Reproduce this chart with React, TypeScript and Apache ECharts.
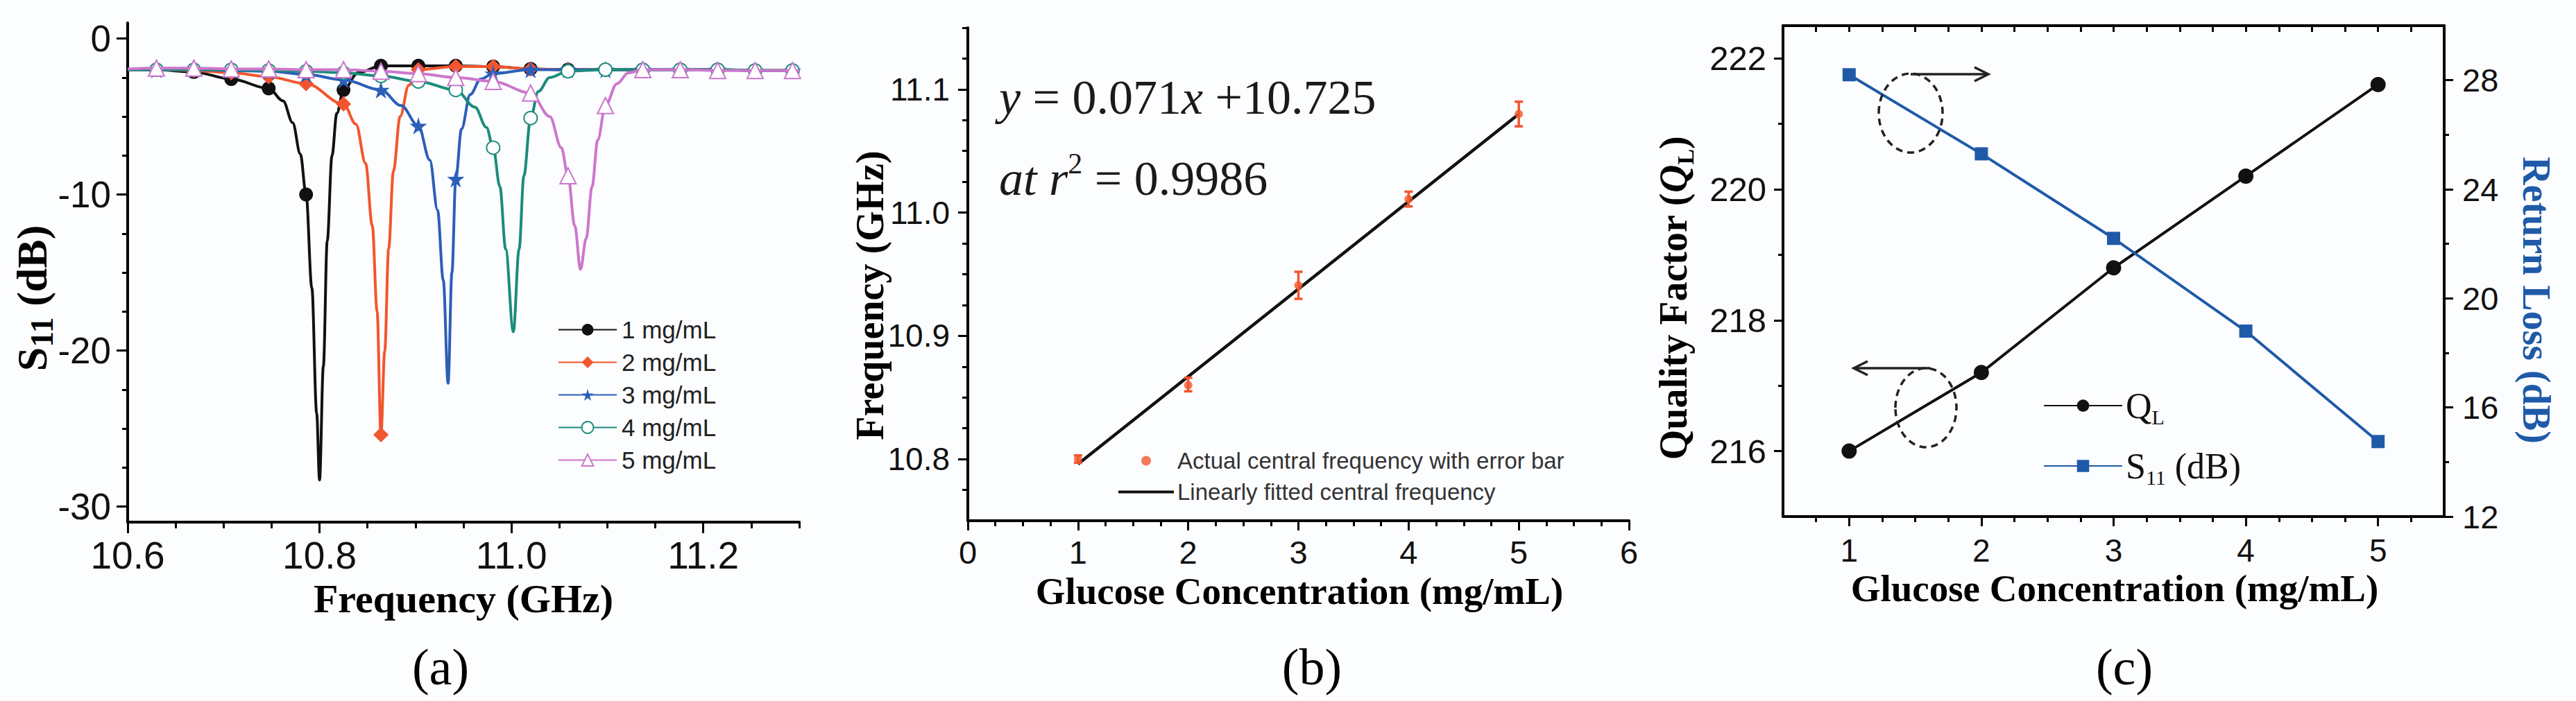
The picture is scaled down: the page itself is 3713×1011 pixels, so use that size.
import React, { useEffect, useRef } from 'react';
import * as echarts from 'echarts';

const W = 3713;
const H = 1011;
const SANS = '"Liberation Sans", Arial, sans-serif';
const SERIF = '"Liberation Serif", "Times New Roman", serif';

// ---------------- Panel (a): S11 vs frequency ----------------
const FREQ_LABELS = [10.6, 10.8, 11.0, 11.2];
const FREQ_MINOR = [10.65, 10.7, 10.75, 10.85, 10.9, 10.95, 11.05, 11.1, 11.15, 11.25, 11.3];
const S11_LABELS = [0, -10, -20, -30];
const S11_MINOR = [-27.5, -25, -22.5, -17.5, -15, -12.5, -7.5, -5, -2.5];
const MARKER_FREQS = [10.63, 10.669, 10.708, 10.747, 10.786, 10.825, 10.864, 10.903, 10.942, 10.981, 11.02, 11.059, 11.098, 11.137, 11.176, 11.215, 11.254, 11.293];
const CONC_NAMES = ['1 mg/mL', '2 mg/mL', '3 mg/mL', '4 mg/mL', '5 mg/mL'];

const S11_C1: [number, number][] = [
  [10.6, -2.0], [10.63, -2.0], [10.669, -2.15], [10.708, -2.6], [10.747, -3.2], [10.762, -4.0], [10.772, -5.4],
  [10.78, -7.4], [10.786, -10.0], [10.792, -16.0], [10.797, -24.0], [10.8, -28.3], [10.804, -21.0], [10.808, -13.0],
  [10.813, -7.5], [10.818, -4.8], [10.825, -3.3], [10.84, -2.2], [10.864, -1.75], [10.903, -1.75], [10.942, -1.75],
  [10.981, -1.8], [11.02, -1.95], [11.059, -2.0], [11.098, -2.0], [11.137, -2.0], [11.176, -2.0], [11.215, -2.0],
  [11.254, -2.05], [11.293, -2.05], [11.3, -2.05],
];
const S11_C2: [number, number][] = [
  [10.6, -2.0], [10.63, -2.0], [10.669, -2.05], [10.708, -2.2], [10.747, -2.45], [10.786, -2.9], [10.825, -4.2],
  [10.838, -5.5], [10.848, -8.0], [10.855, -12.0], [10.86, -17.5], [10.864, -25.4], [10.868, -20.0], [10.872, -13.5],
  [10.877, -8.5], [10.884, -5.0], [10.893, -3.0], [10.903, -2.0], [10.942, -1.8], [10.981, -1.8], [11.02, -1.95],
  [11.059, -2.0], [11.098, -2.0], [11.137, -2.0], [11.176, -2.0], [11.215, -2.0], [11.254, -2.05], [11.293, -2.05],
  [11.3, -2.05],
];
const S11_C3: [number, number][] = [
  [10.6, -2.0], [10.63, -2.0], [10.669, -2.0], [10.708, -2.05], [10.747, -2.1], [10.786, -2.3], [10.825, -2.65],
  [10.864, -3.3], [10.885, -4.3], [10.903, -5.6], [10.915, -7.8], [10.923, -11.0], [10.929, -15.5], [10.934, -22.1],
  [10.938, -15.0], [10.942, -9.0], [10.948, -5.8], [10.957, -3.6], [10.968, -2.6], [10.981, -2.25], [11.02, -2.0],
  [11.059, -2.0], [11.098, -2.0], [11.137, -2.0], [11.176, -2.0], [11.215, -2.0], [11.254, -2.05], [11.293, -2.05],
  [11.3, -2.05],
];
const S11_C4: [number, number][] = [
  [10.6, -2.0], [10.63, -2.0], [10.669, -2.0], [10.708, -2.0], [10.747, -2.05], [10.786, -2.1], [10.825, -2.2],
  [10.864, -2.4], [10.903, -2.75], [10.942, -3.3], [10.962, -4.4], [10.974, -5.7], [10.981, -7.0], [10.988, -9.5],
  [10.994, -13.5], [11.002, -18.8], [11.008, -13.5], [11.013, -8.8], [11.02, -5.1], [11.028, -3.4], [11.04, -2.5],
  [11.059, -2.1], [11.098, -2.0], [11.137, -2.0], [11.176, -2.0], [11.215, -2.0], [11.254, -2.05], [11.293, -2.05],
  [11.3, -2.05],
];
const S11_C5: [number, number][] = [
  [10.6, -1.95], [10.63, -1.9], [10.669, -1.9], [10.708, -1.95], [10.747, -1.95], [10.786, -2.0], [10.825, -2.0],
  [10.864, -2.1], [10.903, -2.25], [10.942, -2.5], [10.981, -2.75], [11.02, -3.5], [11.04, -5.0], [11.052, -7.0],
  [11.059, -8.8], [11.066, -12.0], [11.072, -14.8], [11.078, -12.8], [11.084, -9.5], [11.09, -6.5], [11.098, -4.3],
  [11.11, -2.9], [11.122, -2.2], [11.137, -2.0], [11.176, -2.0], [11.215, -2.05], [11.254, -2.05], [11.293, -2.05],
  [11.3, -2.05],
];

// ---------------- Panel (b): central frequency vs concentration ----------------
const CONC_B_LABELS = [0, 1, 2, 3, 4, 5, 6];
const CONC_B_MINOR = [0.25, 0.5, 0.75, 1.25, 1.5, 1.75, 2.25, 2.5, 2.75, 3.25, 3.5, 3.75, 4.25, 4.5, 4.75, 5.25, 5.5, 5.75];
const FB_LABELS = [10.8, 10.9, 11.0, 11.1];
const FB_MINOR = [10.775, 10.825, 10.85, 10.875, 10.925, 10.95, 10.975, 11.025, 11.05, 11.075, 11.125, 11.15];
const CONC = [1, 2, 3, 4, 5];
const CENTER_FREQ = [10.8, 10.86, 10.941, 11.011, 11.08];
const FREQ_LOW = [10.797, 10.855, 10.93, 11.005, 11.07];
const FREQ_HIGH = [10.803, 10.866, 10.952, 11.017, 11.09];
const FIT_X = [1, 5];
const FIT_Y = [10.796, 11.08];

// ---------------- Panel (c): quality factor and return loss ----------------
const CONC_C_LABELS = [1, 2, 3, 4, 5];
const CONC_C_MINOR = [0.75, 1.25, 1.5, 1.75, 2.25, 2.5, 2.75, 3.25, 3.5, 3.75, 4.25, 4.5, 4.75, 5.25];
const CONC_C_TOP = [0.75, 1, 1.25, 1.5, 1.75, 2, 2.25, 2.5, 2.75, 3, 3.25, 3.5, 3.75, 4, 4.25, 4.5, 4.75, 5, 5.25];
const Q_LABELS = [216, 218, 220, 222];
const Q_MINOR = [217, 219, 221];
const RL_LABELS = [12, 16, 20, 24, 28];
const RL_MINOR = [14, 18, 22, 26];
const Q_FACTOR = [216.0, 217.2, 218.8, 220.2, 221.6];
const RETURN_LOSS = [28.2, 25.3, 22.2, 18.8, 14.75];

const C_BLACK = '#111111';
const C_RED = '#f2562e';
const C_BLUE = '#2b5fb8';
const C_TEAL = '#1b8c7c';
const C_PINK = '#cc77cc';
const C_BLUE_C = '#1f5aa8';
const STAR = 'path://M50,0 L61,35 L98,35 L68,57 L79,91 L50,70 L21,91 L32,57 L2,35 L39,35 Z';
const LINE_ICON = 'path://M0,0 L100,0 L100,5 L0,5 Z';

function withMarkers(pts: [number, number][]) {
  return pts.map(([x, y]) =>
    MARKER_FREQS.some((m) => Math.abs(m - x) < 1e-9) ? [x, y] : { value: [x, y], symbol: 'none' }
  );
}

function mainAxis(o: any) {
  return {
    type: 'value',
    gridIndex: o.grid,
    position: o.pos,
    min: o.min,
    max: o.max,
    axisLine: { show: true, onZero: false, lineStyle: { color: '#000', width: 4 } },
    axisTick: { show: true, customValues: o.ticks, length: o.tickLen ?? 15, inside: !!o.inside, lineStyle: { color: '#000', width: 3 } },
    axisLabel: o.labels
      ? { show: true, customValues: o.labels, formatter: o.fmt, fontSize: o.fs, fontFamily: SANS, color: '#111', margin: o.margin }
      : { show: false },
    splitLine: { show: false },
    minorTick: { show: false },
    z: 5,
  };
}
function minorAxis(o: any) {
  return {
    type: 'value',
    gridIndex: o.grid,
    position: o.pos,
    min: o.min,
    max: o.max,
    axisLine: { show: false, onZero: false },
    axisTick: { show: true, customValues: o.ticks, length: o.len ?? 8, inside: !!o.inside, lineStyle: { color: '#000', width: 3 } },
    axisLabel: { show: false },
    splitLine: { show: false },
    z: 5,
  };
}

function buildOption(): any {
  const lineA = (name: string, data: [number, number][], color: string, symbol: string, size: number, z: number) => ({
    name,
    type: 'line',
    xAxisIndex: 0,
    yAxisIndex: 0,
    data: withMarkers(data),
    smooth: 0.35,
    smoothMonotone: 'x',
    symbol,
    symbolSize: size,
    showSymbol: true,
    showAllSymbol: true,
    color,
    lineStyle: { color, width: 4 },
    itemStyle: { color, borderColor: color, borderWidth: symbol.startsWith('empty') ? 2.5 : 0 },
    z,
  });

  const txt = (x: number, y: number, text: string, extra: any = {}, rotation = 0) => ({
    type: 'text',
    x,
    y,
    rotation,
    style: { text, align: 'center', verticalAlign: 'middle', fill: '#000', ...extra },
  });

  const boldSerif = (fs: number, color = '#000') => ({ fontFamily: SERIF, fontWeight: 'bold', fontSize: fs, fill: color });
  const PANEL_Y = 962;

  return {
    animation: false,
    backgroundColor: '#fcfdff',
    grid: [
      { left: 184, top: 33, width: 968, height: 720 },
      { left: 1395, top: 40, width: 953, height: 711 },
      { left: 2570, top: 37, width: 953, height: 708 },
    ],
    xAxis: [
      mainAxis({ grid: 0, pos: 'bottom', min: 10.6, max: 11.3, ticks: FREQ_LABELS, labels: FREQ_LABELS, fmt: (v: number) => v.toFixed(1), fs: 55, margin: 20, tickLen: 16 }),
      minorAxis({ grid: 0, pos: 'bottom', min: 10.6, max: 11.3, ticks: FREQ_MINOR, len: 9 }),
      mainAxis({ grid: 1, pos: 'bottom', min: 0, max: 6, ticks: CONC_B_LABELS, labels: CONC_B_LABELS, fmt: (v: number) => String(v), fs: 47, margin: 22, tickLen: 14 }),
      minorAxis({ grid: 1, pos: 'bottom', min: 0, max: 6, ticks: CONC_B_MINOR, len: 8 }),
      mainAxis({ grid: 2, pos: 'bottom', min: 0.5, max: 5.5, ticks: CONC_C_LABELS, labels: CONC_C_LABELS, fmt: (v: number) => String(v), fs: 46, margin: 26, tickLen: 14 }),
      minorAxis({ grid: 2, pos: 'bottom', min: 0.5, max: 5.5, ticks: CONC_C_MINOR, len: 8 }),
      mainAxis({ grid: 2, pos: 'top', min: 0.5, max: 5.5, ticks: CONC_C_TOP, tickLen: 9, inside: true }),
    ],
    yAxis: [
      mainAxis({ grid: 0, pos: 'left', min: -31, max: 1, ticks: S11_LABELS, labels: S11_LABELS, fmt: (v: number) => String(v), fs: 53, margin: 24, tickLen: 16 }),
      minorAxis({ grid: 0, pos: 'left', min: -31, max: 1, ticks: S11_MINOR, len: 8 }),
      mainAxis({ grid: 1, pos: 'left', min: 10.75, max: 11.15, ticks: FB_LABELS, labels: FB_LABELS, fmt: (v: number) => v.toFixed(1), fs: 46, margin: 26, tickLen: 14 }),
      minorAxis({ grid: 1, pos: 'left', min: 10.75, max: 11.15, ticks: FB_MINOR, len: 8 }),
      mainAxis({ grid: 2, pos: 'left', min: 215, max: 222.5, ticks: Q_LABELS, labels: Q_LABELS, fmt: (v: number) => String(v), fs: 49, margin: 24, tickLen: 13 }),
      minorAxis({ grid: 2, pos: 'left', min: 215, max: 222.5, ticks: Q_MINOR, len: 7 }),
      mainAxis({ grid: 2, pos: 'right', min: 12, max: 30, ticks: RL_LABELS, labels: RL_LABELS, fmt: (v: number) => String(v), fs: 47, margin: 26, tickLen: 13 }),
      minorAxis({ grid: 2, pos: 'right', min: 12, max: 30, ticks: RL_MINOR, len: 7 }),
    ],
    legend: [
      {
        data: CONC_NAMES,
        orient: 'vertical',
        left: 804,
        top: 458,
        padding: 0,
        itemWidth: 84,
        itemHeight: 21,
        itemGap: 12,
        textStyle: { fontSize: 35, lineHeight: 35, fontFamily: SANS, color: '#222', padding: [0, 0, 0, 2] },
      },
      {
        data: [
          { name: 'Actual central frequency with error bar', icon: 'circle' },
          { name: 'Linearly fitted central frequency', icon: LINE_ICON },
        ],
        orient: 'vertical',
        left: 1612,
        top: 648,
        padding: 0,
        itemWidth: 80,
        itemHeight: 14,
        itemGap: 12,
        textStyle: { fontSize: 33, lineHeight: 33, fontFamily: SANS, color: '#333' },
      },
      {
        data: ['QL', 'S11 (dB)'],
        orient: 'vertical',
        left: 2945,
        top: 559,
        padding: 0,
        itemWidth: 113,
        itemHeight: 22,
        itemGap: 30,
        formatter: (n: string) => (n === 'QL' ? '{m|Q}{s|L}' : '{m|S}{s|11}{m| (dB)}'),
        textStyle: {
          fontFamily: SERIF,
          fontSize: 52,
          color: '#111',
          rich: {
            m: { fontFamily: SERIF, fontSize: 52, lineHeight: 62, color: '#111' },
            s: { fontFamily: SERIF, fontSize: 30, lineHeight: 30, verticalAlign: 'bottom', color: '#111' },
          },
        },
      },
    ],
    series: [
      lineA(CONC_NAMES[0], S11_C1, C_BLACK, 'circle', 20, 10),
      lineA(CONC_NAMES[1], S11_C2, C_RED, 'diamond', 22, 11),
      lineA(CONC_NAMES[2], S11_C3, C_BLUE, STAR, 25, 12),
      lineA(CONC_NAMES[3], S11_C4, C_TEAL, 'emptyCircle', 19, 13),
      lineA(CONC_NAMES[4], S11_C5, C_PINK, 'emptyTriangle', 23, 14),
      {
        name: 'error bar',
        type: 'custom',
        xAxisIndex: 2,
        yAxisIndex: 2,
        data: CONC.map((c, i) => [c, FREQ_LOW[i], FREQ_HIGH[i]]),
        encode: { x: 0, y: [1, 2] },
        renderItem: (_p: any, api: any) => {
          const lo = api.coord([api.value(0), api.value(1)]);
          const hi = api.coord([api.value(0), api.value(2)]);
          const w = 6;
          const st = { stroke: C_RED, lineWidth: 3.5 };
          return {
            type: 'group',
            children: [
              { type: 'line', shape: { x1: lo[0], y1: lo[1], x2: hi[0], y2: hi[1] }, style: st },
              { type: 'line', shape: { x1: lo[0] - w, y1: lo[1], x2: lo[0] + w, y2: lo[1] }, style: st },
              { type: 'line', shape: { x1: hi[0] - w, y1: hi[1], x2: hi[0] + w, y2: hi[1] }, style: st },
            ],
          };
        },
        z: 9,
      },
      {
        name: 'Linearly fitted central frequency',
        type: 'line',
        xAxisIndex: 2,
        yAxisIndex: 2,
        data: FIT_X.map((x, i) => [x, FIT_Y[i]]),
        symbol: 'none',
        color: C_BLACK,
        lineStyle: { color: C_BLACK, width: 4.5 },
        z: 8,
      },
      {
        name: 'Actual central frequency with error bar',
        type: 'scatter',
        xAxisIndex: 2,
        yAxisIndex: 2,
        data: CONC.map((c, i) => [c, CENTER_FREQ[i]]),
        symbol: 'circle',
        symbolSize: 12,
        color: C_RED,
        itemStyle: { color: C_RED },
        z: 10,
      },
      {
        name: 'QL',
        type: 'line',
        xAxisIndex: 4,
        yAxisIndex: 4,
        data: CONC.map((c, i) => [c, Q_FACTOR[i]]),
        symbol: 'circle',
        symbolSize: 22,
        color: C_BLACK,
        lineStyle: { color: C_BLACK, width: 4 },
        itemStyle: { color: C_BLACK },
        z: 10,
      },
      {
        name: 'S11 (dB)',
        type: 'line',
        xAxisIndex: 4,
        yAxisIndex: 6,
        data: CONC.map((c, i) => [c, RETURN_LOSS[i]]),
        symbol: 'rect',
        symbolSize: 19,
        color: C_BLUE_C,
        lineStyle: { color: C_BLUE_C, width: 4 },
        itemStyle: { color: C_BLUE_C },
        z: 10,
      },
    ],
    graphic: [
      // Panel (a) titles
      txt(668, 863, 'Frequency (GHz)', boldSerif(58)),
      txt(46, 430, '{b|S}{s|11}{b| (dB)}', {
        rich: {
          b: { fontFamily: SERIF, fontWeight: 'bold', fontSize: 62, lineHeight: 74, fill: '#000' },
          s: { fontFamily: SERIF, fontWeight: 'bold', fontSize: 46, lineHeight: 46, verticalAlign: 'bottom', fill: '#000' },
        },
      }, Math.PI / 2),
      txt(635, PANEL_Y, '(a)', { fontFamily: SERIF, fontSize: 74, fill: '#000' }),
      // Panel (b) titles
      txt(1873, 852, 'Glucose Concentration (mg/mL)', boldSerif(55)),
      txt(1254, 426, 'Frequency (GHz)', boldSerif(56), Math.PI / 2),
      txt(1891, PANEL_Y, '(b)', { fontFamily: SERIF, fontSize: 74, fill: '#000' }),
      {
        type: 'text',
        x: 1440,
        y: 140,
        style: {
          text: '{i|y}{n| = 0.071}{i|x}{n| +10.725}',
          align: 'left',
          verticalAlign: 'middle',
          rich: {
            i: { fontFamily: SERIF, fontStyle: 'italic', fontSize: 70, lineHeight: 84, fill: '#1a1a1a' },
            n: { fontFamily: SERIF, fontSize: 70, lineHeight: 84, fill: '#1a1a1a' },
          },
        },
      },
      {
        type: 'text',
        x: 1440,
        y: 257,
        style: {
          text: '{i|at r}{sup|2}{n| = 0.9986}',
          align: 'left',
          verticalAlign: 'middle',
          rich: {
            i: { fontFamily: SERIF, fontStyle: 'italic', fontSize: 70, lineHeight: 84, fill: '#1a1a1a' },
            n: { fontFamily: SERIF, fontSize: 70, lineHeight: 84, fill: '#1a1a1a' },
            sup: { fontFamily: SERIF, fontSize: 42, lineHeight: 42, verticalAlign: 'top', fill: '#1a1a1a' },
          },
        },
      },
      // Panel (c) titles
      txt(3048, 848, 'Glucose Concentration (mg/mL)', boldSerif(55)),
      txt(2412, 430, '{b|Quality Factor (}{i|Q}{s|L}{b|)}', {
        rich: {
          b: { fontFamily: SERIF, fontWeight: 'bold', fontSize: 56, lineHeight: 68, fill: '#000' },
          i: { fontFamily: SERIF, fontWeight: 'bold', fontStyle: 'italic', fontSize: 56, lineHeight: 68, fill: '#000' },
          s: { fontFamily: SERIF, fontWeight: 'bold', fontSize: 34, lineHeight: 34, verticalAlign: 'bottom', fill: '#000' },
        },
      }, Math.PI / 2),
      txt(3656, 433, 'Return Loss (dB)', boldSerif(56, C_BLUE_C), -Math.PI / 2),
      txt(3062, PANEL_Y, '(c)', { fontFamily: SERIF, fontSize: 74, fill: '#000' }),
      // dashed ellipses and arrows
      { type: 'ellipse', shape: { cx: 2754, cy: 163, rx: 46, ry: 57 }, style: { fill: 'none', stroke: '#222', lineWidth: 3.5, lineDash: [10, 7] }, z: 20 },
      { type: 'ellipse', shape: { cx: 2776, cy: 588, rx: 44, ry: 57 }, style: { fill: 'none', stroke: '#222', lineWidth: 3.5, lineDash: [10, 7] }, z: 20 },
      { type: 'line', shape: { x1: 2754, y1: 107, x2: 2866, y2: 107 }, style: { stroke: '#222', lineWidth: 3.5 }, z: 20 },
      { type: 'polyline', shape: { points: [[2846, 97], [2866, 107], [2846, 117]] }, style: { fill: 'none', stroke: '#222', lineWidth: 3.5 }, z: 20 },
      { type: 'line', shape: { x1: 2782, y1: 531, x2: 2672, y2: 531 }, style: { stroke: '#222', lineWidth: 3.5 }, z: 20 },
      { type: 'polyline', shape: { points: [[2692, 521], [2672, 531], [2692, 541]] }, style: { fill: 'none', stroke: '#222', lineWidth: 3.5 }, z: 20 },
    ],
  };
}

export default function App() {
  const ref = useRef<HTMLDivElement>(null);
  useEffect(() => {
    if (!ref.current) return;
    const chart = echarts.init(ref.current, null, { renderer: 'svg', width: W, height: H });
    chart.setOption(buildOption());
    return () => chart.dispose();
  }, []);
  return (
    <div
      ref={ref}
      style={{ position: 'absolute', left: 0, top: 0, width: W, height: H, background: '#fcfdff' }}
    />
  );
}
